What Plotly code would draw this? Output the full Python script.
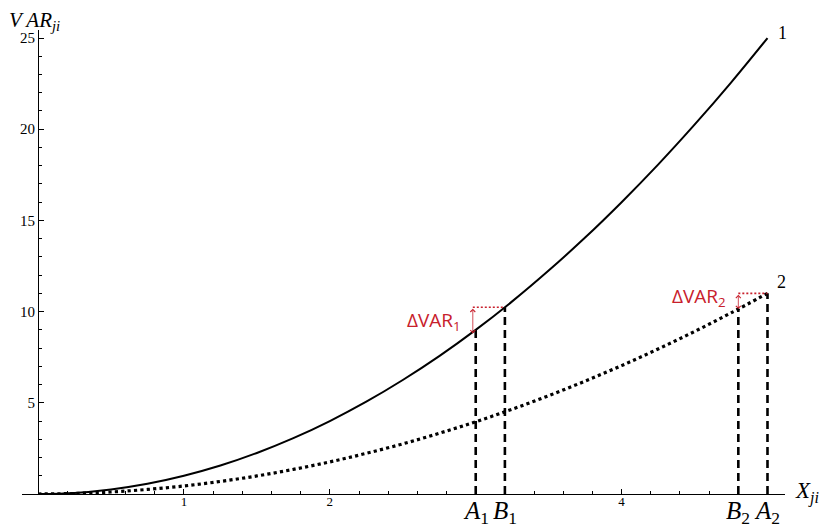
import plotly.graph_objects as go

# Curve samples
x_vals = [0, 0.25, 0.5, 0.75, 1, 1.25, 1.5, 1.75, 2, 2.25, 2.5, 2.75, 3, 3.25, 3.5, 3.75, 4, 4.25, 4.5, 4.75, 5]
var_curve1 = [0, 0.06, 0.25, 0.56, 1, 1.56, 2.25, 3.06, 4, 5.06, 6.25, 7.56, 9, 10.56, 12.25, 14.06, 16, 18.06, 20.25, 22.56, 25]
var_curve2 = [0, 0.03, 0.11, 0.25, 0.44, 0.69, 0.99, 1.35, 1.76, 2.23, 2.75, 3.33, 3.96, 4.65, 5.39, 6.19, 7.04, 7.95, 8.91, 9.93, 11]

# Marked points on the X axis
mark_names = ["A1", "B1", "B2", "A2"]
mark_x = [3.0, 3.2, 4.8, 5.0]
mark_y = [9.0, 10.24, 10.14, 11.0]
mark_labels = ["<i>A</i><sub>1</sub>", "<i>B</i><sub>1</sub>", "<i>B</i><sub>2</sub>", "<i>A</i><sub>2</sub>"]

# Delta VAR markers
delta_x = [2.98, 4.8]
delta_low = [8.8, 10.14]
delta_high = [10.24, 11.0]
delta_end = [3.2, 5.0]
delta_text_y = [9.5, 10.8]
delta_labels = ["ΔVAR<sub>1</sub>", "ΔVAR<sub>2</sub>"]

tick_x = [1, 2, 4]
tick_x_text = ["1", "2", "4"]
tick_y = [5, 10, 15, 20, 25]

RED = "#c8202c"
SERIF = "Liberation Serif, DejaVu Serif, serif"

fig = go.Figure()

fig.add_trace(go.Scatter(x=x_vals, y=var_curve1, mode="lines", line=dict(color="black", width=2, shape="spline"),
                         showlegend=False, hoverinfo="skip"))
fig.add_trace(go.Scatter(x=x_vals, y=var_curve2, mode="lines", line=dict(color="black", width=3.2, dash="dot", shape="spline"),
                         showlegend=False, hoverinfo="skip"))

for mx, my in zip(mark_x, mark_y):
    fig.add_trace(go.Scatter(x=[mx, mx], y=[0, my], mode="lines",
                             line=dict(color="black", width=2.6, dash="8px,5px"),
                             showlegend=False, hoverinfo="skip"))

for dx, lo, hi, de in zip(delta_x, delta_low, delta_high, delta_end):
    fig.add_trace(go.Scatter(x=[dx, de], y=[hi, hi], mode="lines",
                             line=dict(color=RED, width=1.6, dash="2px,2px"),
                             showlegend=False, hoverinfo="skip"))
    fig.add_annotation(x=dx, y=lo, ax=dx, ay=hi, xref="x", yref="y", axref="x", ayref="y",
                       showarrow=True, arrowhead=4, arrowside="end+start", arrowsize=1.2,
                       arrowwidth=0.8, arrowcolor=RED, text="")

for dx, ty, lab in zip(delta_x, delta_text_y, delta_labels):
    fig.add_annotation(x=dx, y=ty, xref="x", yref="y", text=lab, showarrow=False,
                       xanchor="right", xshift=-10, font=dict(family="Open Sans, DejaVu Sans, sans-serif", size=19, color=RED))

for mx, lab in zip(mark_x, mark_labels):
    fig.add_annotation(x=mx, y=0, xref="x", yref="y", text=lab, showarrow=False,
                       yanchor="top", yshift=-1, font=dict(family=SERIF, size=25, color="black"))

fig.add_annotation(x=5.06, y=25.3, xref="x", yref="y", text="1", showarrow=False,
                   xanchor="left", font=dict(family=SERIF, size=18, color="black"))
fig.add_annotation(x=5.05, y=11.6, xref="x", yref="y", text="2", showarrow=False,
                   xanchor="left", font=dict(family=SERIF, size=18, color="black"))

fig.add_annotation(x=0, y=1, xref="paper", yref="paper", text="<i>V AR</i><sub><i>ji</i></sub>", showarrow=False,
                   xanchor="left", yanchor="bottom", xshift=-15, yshift=-6, font=dict(family=SERIF, size=21, color="black"))
fig.add_annotation(x=1, y=0, xref="paper", yref="paper", text="<i>X</i><sub><i>ji</i></sub>", showarrow=False,
                   xanchor="left", yanchor="middle", xshift=8, yshift=2, font=dict(family=SERIF, size=23, color="black"))

x_lo, x_hi = -0.11, 5.12
fig.update_layout(
    width=826, height=523,
    margin=dict(l=14, r=49, t=22, b=37),
    plot_bgcolor="white", paper_bgcolor="white",
    showlegend=False,
    xaxis=dict(range=[x_lo, x_hi], showgrid=False, zeroline=False, showline=True, linecolor="black", linewidth=1.3,
               ticks="inside", ticklen=5, tickwidth=1, tickcolor="black",
               tickvals=tick_x, ticktext=tick_x_text, ticklabelstandoff=-5,
               minor=dict(dtick=0.2, tick0=0, ticks="inside", ticklen=3, tickcolor="black", showgrid=False),
               tickfont=dict(family=SERIF, size=13, color="black"), automargin=False),
    yaxis=dict(range=[0, 25.44], anchor="free", position=(0 - x_lo) / (x_hi - x_lo), side="left",
               showgrid=False, zeroline=False, showline=True, linecolor="black", linewidth=1.3,
               ticks="inside", ticklen=5, tickwidth=1, tickcolor="black",
               tickvals=tick_y,
               minor=dict(dtick=1, tick0=0, ticks="inside", ticklen=3, tickcolor="black", showgrid=False),
               tickfont=dict(family=SERIF, size=15, color="black"), automargin=False),
)

fig.write_html("out.html")
